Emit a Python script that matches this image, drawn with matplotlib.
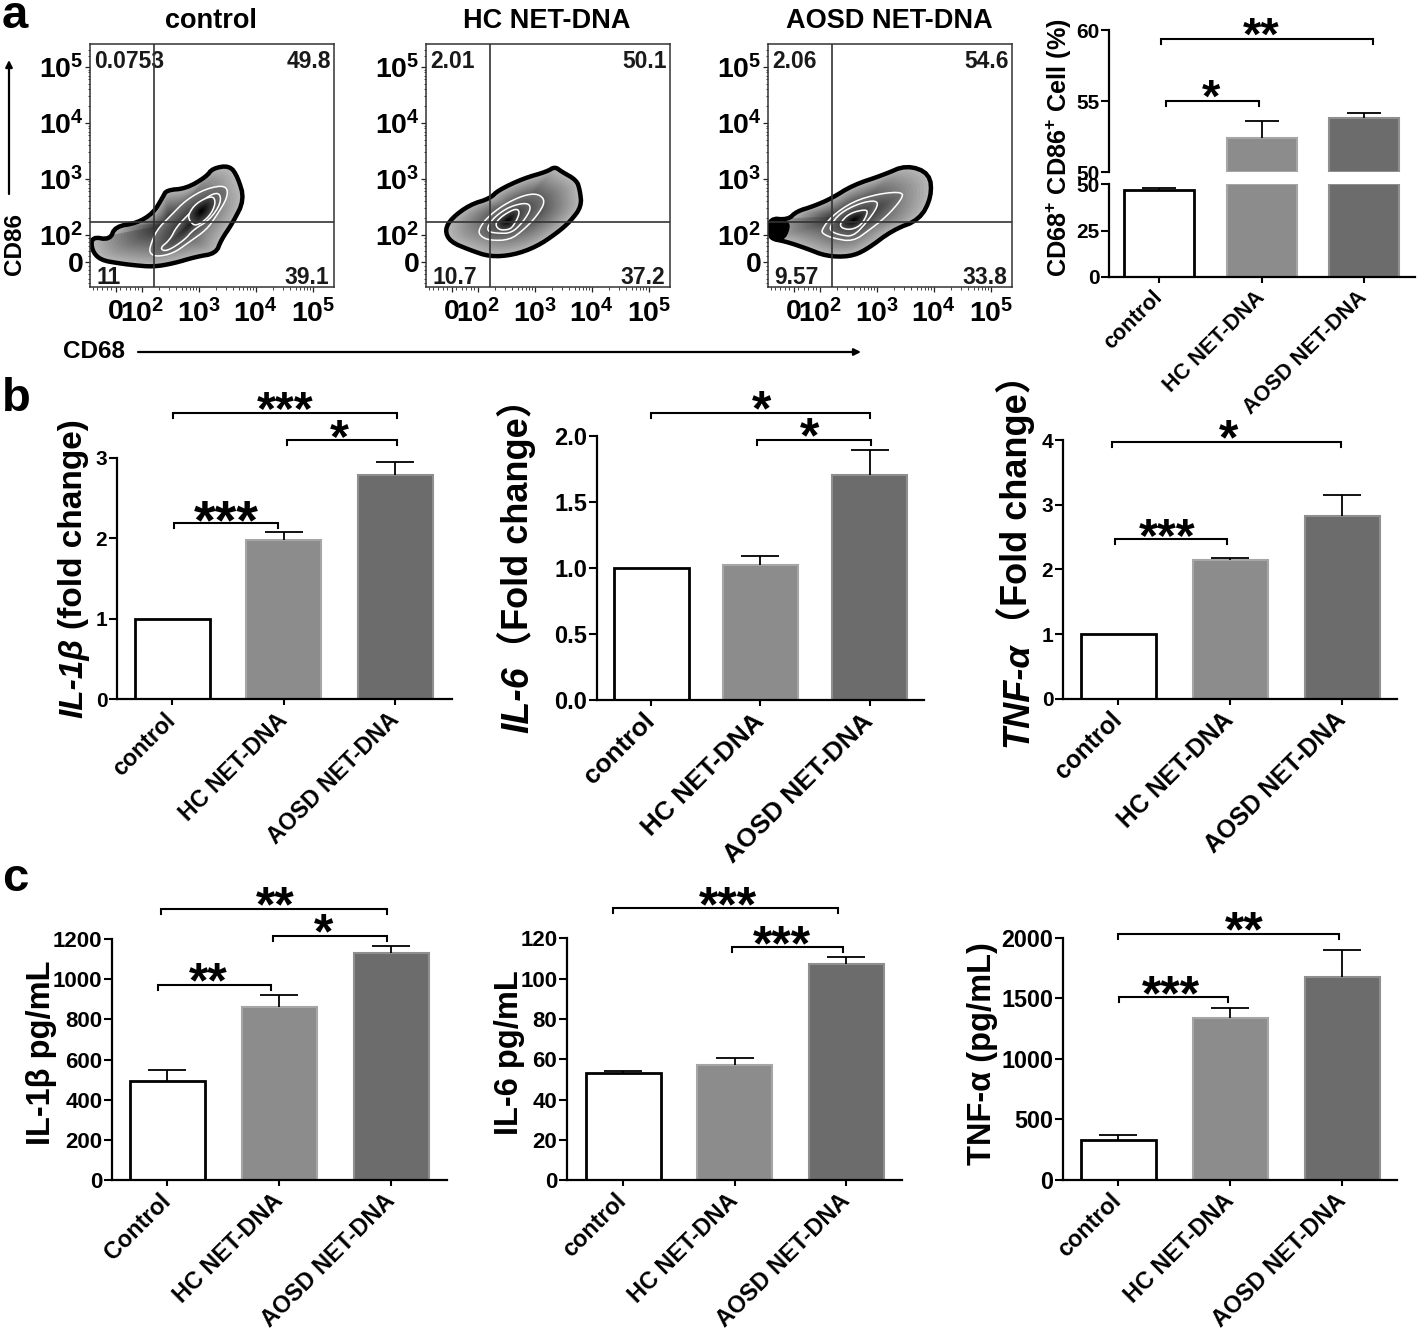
import numpy as np
import matplotlib
matplotlib.use("Agg")
import matplotlib.pyplot as plt
from matplotlib.patches import Polygon

plt.rcParams['font.family'] = ['Liberation Sans', 'Noto Sans CJK SC', 'DejaVu Sans']
plt.rcParams['font.weight'] = 'bold'
plt.rcParams['mathtext.fontset'] = 'custom'
plt.rcParams['mathtext.bf'] = 'Liberation Sans:bold'
plt.rcParams['mathtext.rm'] = 'Liberation Sans:bold'
plt.rcParams['mathtext.it'] = 'Liberation Sans:italic:bold'

W, H = 1418, 1332

# --- flow cytometry panels (contours in log10 decades) ---
flow_titles = ["control", "HC NET-DNA", "AOSD NET-DNA"]
flow_quadrants = [
    ["0.0753", "49.8", "11", "39.1"],
    ["2.01", "50.1", "10.7", "37.2"],
    ["2.06", "54.6", "9.57", "33.8"],
]

ctrl_outer_x = [1.12, 1.44, 1.53, 1.91, 2.20, 2.37, 2.43, 2.78, 3.13, 3.24, 3.54, 3.68, 3.80, 3.59, 3.39, 3.30, 2.95, 2.55, 2.20, 1.85, 1.62, 1.27, 1.12]
ctrl_outer_y = [1.97, 1.91, 2.15, 2.21, 2.39, 2.68, 2.80, 2.83, 3.04, 3.19, 3.24, 3.04, 2.63, 2.21, 1.91, 1.67, 1.61, 1.49, 1.43, 1.46, 1.49, 1.55, 1.73]
ctrl_c1_x = [2.14, 2.26, 2.49, 2.78, 3.13, 3.48, 3.51, 3.30, 3.13, 2.84, 2.55, 2.26, 2.14]
ctrl_c1_y = [1.79, 2.09, 2.33, 2.63, 2.83, 2.89, 2.68, 2.33, 2.09, 1.88, 1.67, 1.61, 1.67]
ctrl_c2_x = [2.31, 2.49, 2.61, 2.84, 3.13, 3.36, 3.39, 3.19, 2.90, 2.75, 2.43]
ctrl_c2_y = [1.76, 1.91, 2.15, 2.39, 2.68, 2.77, 2.57, 2.27, 2.09, 1.91, 1.70]
ctrl_c3_x = [2.81, 2.95, 3.24, 3.30, 3.19, 2.95, 2.84]
ctrl_c3_y = [2.36, 2.57, 2.71, 2.57, 2.33, 2.15, 2.24]

hc_outer_x = [1.42, 1.54, 1.86, 2.21, 2.36, 2.80, 3.21, 3.35, 3.47, 3.73, 3.79, 3.82, 3.62, 3.38, 3.03, 2.62, 2.21, 1.86, 1.51]
hc_outer_y = [2.09, 2.30, 2.54, 2.65, 2.80, 3.01, 3.13, 3.22, 3.13, 2.98, 2.80, 2.51, 2.24, 2.03, 1.79, 1.64, 1.61, 1.73, 1.88]
hc_c1_x = [2.01, 2.15, 2.45, 2.80, 3.06, 3.19, 3.03, 2.80, 2.56, 2.21, 2.04]
hc_c1_y = [2.09, 2.30, 2.54, 2.71, 2.74, 2.60, 2.33, 2.09, 1.91, 1.90, 1.98]
hc_c2_x = [2.17, 2.30, 2.56, 2.86, 2.94, 2.80, 2.59, 2.33, 2.18]
hc_c2_y = [2.15, 2.33, 2.51, 2.58, 2.48, 2.24, 2.03, 2.03, 2.06]
hc_c3_x = [2.30, 2.45, 2.68, 2.74, 2.62, 2.53, 2.36]
hc_c3_y = [2.21, 2.36, 2.48, 2.39, 2.15, 2.09, 2.09]

aosd_outer_x = [1.11, 1.44, 1.59, 1.88, 2.20, 2.58, 3.11, 3.52, 3.93, 3.96, 3.75, 3.28, 2.81, 2.52, 2.11, 1.76, 1.41, 1.11]
aosd_outer_y = [2.30, 2.27, 2.42, 2.51, 2.65, 2.89, 3.07, 3.25, 3.10, 2.68, 2.27, 2.09, 1.73, 1.61, 1.62, 1.76, 1.88, 1.94]
aosd_c1_x = [2.03, 2.20, 2.58, 3.05, 3.46, 3.43, 3.17, 2.87, 2.58, 2.23, 2.05]
aosd_c1_y = [2.09, 2.33, 2.60, 2.74, 2.77, 2.63, 2.33, 2.09, 1.88, 1.94, 2.02]
aosd_c2_x = [2.17, 2.35, 2.70, 2.99, 3.02, 2.81, 2.58, 2.35, 2.20]
aosd_c2_y = [2.15, 2.39, 2.57, 2.62, 2.51, 2.21, 1.97, 2.00, 2.06]
aosd_c3_x = [2.35, 2.52, 2.81, 2.84, 2.73, 2.55, 2.38]
aosd_c3_y = [2.21, 2.39, 2.46, 2.39, 2.18, 2.09, 2.12]
aosd_tail_x = [1.09, 1.30, 1.48, 1.42, 1.30, 1.09]
aosd_tail_y = [2.30, 2.26, 2.22, 1.98, 1.90, 1.92]

gate_x = 2.21
gate_y = 2.23

# --- bar panels ---
cd_vals = [46.9, 52.4, 53.8]
cd_errs = [1.3, 1.2, 0.4]

il1b_fold = [1.0, 1.98, 2.79]
il1b_fold_err = [0, 0.10, 0.16]
il6_fold = [1.0, 1.02, 1.70]
il6_fold_err = [0, 0.07, 0.19]
tnf_fold = [1.0, 2.14, 2.83]
tnf_fold_err = [0, 0.04, 0.32]
il1b_pg = [495, 862, 1129]
il1b_pg_err = [53, 58, 35]
il6_pg = [53, 57.2, 107.3]
il6_pg_err = [1, 3.6, 3.6]
tnf_pg = [330, 1334, 1677]
tnf_pg_err = [41, 83, 221]

groups_lower = ["control", "HC NET-DNA", "AOSD NET-DNA"]
groups_upper = ["Control", "HC NET-DNA", "AOSD NET-DNA"]

fig = plt.figure(figsize=(W / 100, H / 100), dpi=100)
bg = fig.add_axes([0, 0, 1, 1])
bg.set_xlim(0, W)
bg.set_ylim(H, 0)
bg.axis('off')


def px_axes(left, right, top, bottom):
    ax = fig.add_axes([left / W, 1 - bottom / H, (right - left) / W, (bottom - top) / H])
    ax.patch.set_alpha(0)
    return ax


def rounded(xs, ys, passes=2):
    # corner cutting so the hand-read outlines do not look angular
    pts = np.column_stack([xs, ys])
    for _ in range(passes):
        nxt = np.roll(pts, -1, axis=0)
        pts = np.column_stack([0.75 * pts + 0.25 * nxt, 0.25 * pts + 0.75 * nxt]).reshape(-1, 2)
    return pts


def shade(ax, pts, g_out, g_in, z, start=1.0, steps=24):
    c = pts.mean(axis=0)
    for i, s in enumerate(np.linspace(start, 0.05, steps)):
        g = g_out + (g_in - g_out) * i / (steps - 1)
        ax.add_patch(Polygon(c + s * (pts - c), closed=True, fc=str(g), ec='none', zorder=z))


def flow_panel(left, title, quads, levels, tail=None):
    right, top, bottom = left + 244, 44, 287
    ax = px_axes(left, right, top, bottom)
    ax.set_xlim(1.09, 5.37)
    ax.set_ylim(1.07, 5.41)
    outer, c1, c2, c3 = levels
    outer_pts = rounded(*outer)
    shade(ax, outer_pts, 0.72, 0.12, 1.0)
    ax.add_patch(Polygon(outer_pts, closed=True, fc='none', ec='black', lw=3.2,
                         joinstyle='round', zorder=1.15))
    if tail is not None:
        ax.add_patch(Polygon(rounded(*tail), closed=True, fc='black', ec='black', lw=1, zorder=1.16))
    for k, (lev, g0, g1) in enumerate([(c1, 0.45, 0.15), (c2, 0.4, 0.12), (c3, 0.3, 0.0)]):
        pts = rounded(*lev)
        shade(ax, pts, g0, g1, 1.2 + k * 0.1)
        ax.add_patch(Polygon(pts, closed=True, fc='none', ec='white', lw=1.1,
                             zorder=1.25 + k * 0.1))
    ax.axvline(gate_x, color='#333333', lw=1.2, zorder=2)
    ax.axhline(gate_y, color='#333333', lw=1.2, zorder=2)

    for s in ax.spines.values():
        s.set_color('#333333')
        s.set_linewidth(1.1)
    ax.set_xticks([1.55, 2, 3, 4, 5])
    ax.set_xticklabels(['0', r'$\mathbf{10^{2}}$', r'$\mathbf{10^{3}}$', r'$\mathbf{10^{4}}$', r'$\mathbf{10^{5}}$'], fontsize=20.5)
    ax.set_yticks([1.52, 2, 3, 4, 5])
    ax.set_yticklabels(['0', r'$\mathbf{10^{2}}$', r'$\mathbf{10^{3}}$', r'$\mathbf{10^{4}}$', r'$\mathbf{10^{5}}$'], fontsize=20.5)
    minor = np.concatenate([d + np.log10(np.arange(2, 10)) for d in (2, 3, 4)])
    linear = [1.15, 1.22, 1.3, 1.38, 1.45, 1.62, 1.72, 1.8, 1.88, 1.94]
    ax.set_xticks(np.concatenate([linear, minor]), minor=True)
    ax.set_yticks(np.concatenate([linear, minor, [5.2, 5.3]]), minor=True)
    ax.tick_params(axis='both', which='major', length=3.5, width=0.9, pad=1, color='#222222')
    ax.tick_params(axis='both', which='minor', length=1.8, width=0.6, color='#222222')
    ax.tick_params(axis='x', which='major', pad=5)

    bg.text(left + 121, 21, title, ha='center', va='center', fontsize=19.5)
    bg.text(left + 4, 61, quads[0], ha='left', va='center', fontsize=16.5, color='#1a1a1a')
    bg.text(right - 3, 62, quads[1], ha='right', va='center', fontsize=16.5, color='#1a1a1a')
    bg.text(left + 6, 277, quads[2], ha='left', va='center', fontsize=16.5, color='#1a1a1a')
    bg.text(right - 5, 277, quads[3], ha='right', va='center', fontsize=16.5, color='#1a1a1a')


def mixed_label(x, y_bottom, parts):
    # parts stacked upwards on one baseline: (text, italic, size, gap in px)
    rend = fig.canvas.get_renderer()
    y = y_bottom
    for text, italic, size, gap in parts:
        t = bg.text(x, y, text, rotation=90, ha='left', va='baseline', rotation_mode='anchor',
                    fontsize=size, style='italic' if italic else 'normal')
        y -= t.get_window_extent(rend).height + gap


def style_axis(ax, ylim, yticks, ylabels, ysize):
    ax.set_ylim(*ylim)
    ax.set_yticks(yticks)
    ax.set_yticklabels(ylabels, fontsize=ysize)
    ax.spines['top'].set_visible(False)
    ax.spines['right'].set_visible(False)
    ax.spines['left'].set_linewidth(1.6)
    ax.spines['bottom'].set_linewidth(1.6)
    ax.tick_params(axis='y', length=6, width=1.5, pad=1)
    ax.tick_params(axis='x', length=4.5, width=1.5, pad=8)


def draw_bars(ax, vals, errs, width, bottom=0):
    x = np.arange(3)
    ax.bar(x[0], vals[0], width, bottom=bottom, fc='white', ec='black', lw=2)
    ax.bar(x[1], np.array(vals[1]) - bottom, width, bottom=bottom, fc='#8c8c8c', ec='#a6a6a6', lw=1.5)
    ax.bar(x[2], np.array(vals[2]) - bottom, width, bottom=bottom, fc='#6c6c6c', ec='#8f8f8f', lw=1.5)


def draw_errs(ax, vals, errs, cap=13.5):
    for i in range(3):
        if errs[i] <= 0:
            continue
        eb = ax.errorbar(i, vals[i], yerr=[[0], [errs[i]]], color='black', elinewidth=1.3,
                         capsize=cap, capthick=1.3, zorder=3, clip_on=False)
        eb[1][0].set_visible(False)


def draw_sig(ax, brackets, px_per_unit):
    dip = 5 / px_per_unit
    for x1, x2, y, stars, sx, size in brackets:
        ax.plot([x1, x1, x2, x2], [y - dip, y, y, y - dip], color='black', lw=1.5,
                clip_on=False, zorder=4, solid_joinstyle='miter')
        ax.annotate(stars, (sx, y), xytext=(0, 11.5 - 0.57 * size), textcoords='offset points',
                    ha='center', va='baseline', fontsize=size, annotation_clip=False)


def bar_panel(left, right, top, bottom, x0, step, vals, errs, ylim, yticks, ylabels, ysize,
              groups, xsize, brackets):
    ax = px_axes(left, right, top, bottom)
    ax.set_xlim((left - x0) / step, (right - x0) / step)
    draw_bars(ax, vals, errs, 75 / step)
    draw_errs(ax, vals, errs)
    style_axis(ax, ylim, yticks, ylabels, ysize)
    ax.set_xticks([0, 1, 2])
    ax.set_xticklabels(groups, rotation=45, ha='right', va='center', rotation_mode='anchor', fontsize=xsize)
    draw_sig(ax, brackets, (bottom - top) / (ylim[1] - ylim[0]))
    return ax


# panel a
flow_panel(90, flow_titles[0], flow_quadrants[0],
           [(ctrl_outer_x, ctrl_outer_y), (ctrl_c1_x, ctrl_c1_y), (ctrl_c2_x, ctrl_c2_y), (ctrl_c3_x, ctrl_c3_y)])
flow_panel(426, flow_titles[1], flow_quadrants[1],
           [(hc_outer_x, hc_outer_y), (hc_c1_x, hc_c1_y), (hc_c2_x, hc_c2_y), (hc_c3_x, hc_c3_y)])
flow_panel(768, flow_titles[2], flow_quadrants[2],
           [(aosd_outer_x, aosd_outer_y), (aosd_c1_x, aosd_c1_y), (aosd_c2_x, aosd_c2_y), (aosd_c3_x, aosd_c3_y)],
           tail=(aosd_tail_x, aosd_tail_y))

bg.annotate('', xy=(9, 60), xytext=(9, 194), arrowprops=dict(arrowstyle='-|>', lw=1.6, color='black', mutation_scale=10, shrinkA=0, shrinkB=0))
bg.annotate('', xy=(861, 352), xytext=(138, 352), arrowprops=dict(arrowstyle='-|>', lw=1.6, color='black', mutation_scale=10, shrinkA=0, shrinkB=0))
bg.text(14, 244, 'CD86', rotation=90, ha='center', va='center', fontsize=17.5)
bg.text(94, 352, 'CD68', ha='center', va='center', fontsize=17.5)

# broken axis panel
x0_cd, step_cd = 1159, 102.5
low = px_axes(1109, 1415, 184.3, 276.7)
up = px_axes(1109, 1415, 30, 172.3)
for ax in (low, up):
    ax.set_xlim((1109 - x0_cd) / step_cd, (1415 - x0_cd) / step_cd)
draw_bars(low, [cd_vals[0], 50, 50], cd_errs, 70 / step_cd)
draw_errs(low, [cd_vals[0], 0, 0], [cd_errs[0], 0, 0], cap=12.5)
draw_bars(up, [50, cd_vals[1], cd_vals[2]], cd_errs, 70 / step_cd, bottom=50)
up.patches[0].set_visible(False)
draw_errs(up, [0, cd_vals[1], cd_vals[2]], [0, cd_errs[1], cd_errs[2]], cap=12.5)
style_axis(low, (0, 50), [0, 25, 50], ['0', '25', '50'], 15)
style_axis(up, (50, 60), [50, 55, 60], ['50', '55', '60'], 15)
up.spines['bottom'].set_visible(False)
up.set_xticks([])
low.set_xticks([0, 1, 2])
low.set_xticklabels(groups_lower, rotation=45, ha='right', va='center', rotation_mode='anchor', fontsize=15.6)
draw_sig(up, [(0.02, 2.09, 59.35, '**', 1.0, 34), (0.07, 0.98, 55.0, '*', 0.51, 34)], 14.23)
mixed_label(1067, 277, [(r'CD68$^{\mathbf{+}}$ CD86$^{\mathbf{+}}$ Cell (%)', False, 18.2, 0)])

# panel b
bar_panel(117, 452, 457.7, 699.3, 172, 111.6, il1b_fold, il1b_fold_err, (0, 3),
          [0, 1, 2, 3], ['0', '1', '2', '3'], 15, groups_lower, 16.7,
          [(0.01, 2.02, 3.56, '***', 1.01, 35), (1.03, 2.02, 3.22, '*', 1.50, 35), (0.02, 0.95, 2.19, '***', 0.49, 40)])
mixed_label(82, 718, [('IL-1β', True, 24, 9), ('(fold change)', False, 24, 0)])

bar_panel(597, 924, 435.7, 700, 651, 109.3, il6_fold, il6_fold_err, (0, 2),
          [0, 0.5, 1.0, 1.5, 2.0], ['0.0', '0.5', '1.0', '1.5', '2.0'], 17, groups_lower, 18.9,
          [(0.0, 2.0, 2.17, '*', 1.01, 36), (0.97, 2.01, 1.97, '*', 1.45, 36)])
mixed_label(528, 733, [('IL-6', True, 27, 0), ('（Fold change）', False, 26, 0)])

bar_panel(1063, 1397, 440, 698.7, 1118, 112, tnf_fold, tnf_fold_err, (0, 4),
          [0, 1, 2, 3, 4], ['0', '1', '2', '3', '4'], 15, groups_lower, 17.8,
          [(-0.05, 1.99, 3.97, '*', 0.99, 36), (-0.03, 0.97, 2.47, '***', 0.44, 35)])
mixed_label(1027, 747, [('TNF-α', True, 26, 0), ('（Fold change）', False, 26, 0)])

# panel c
bar_panel(112, 447, 938.7, 1180.3, 167, 112, il1b_pg, il1b_pg_err, (0, 1200),
          [0, 200, 400, 600, 800, 1000, 1200], ['0', '200', '400', '600', '800', '1000', '1200'], 16,
          groups_upper, 16.8,
          [(-0.05, 1.96, 1348, '**', 0.97, 36), (0.95, 1.96, 1215, '*', 1.40, 36), (-0.08, 0.93, 970, '**', 0.37, 36)])
mixed_label(50, 1145, [('IL-1β pg/mL', False, 23.5, 0)])

bar_panel(567, 902, 938.3, 1180.3, 623, 111.5, il6_pg, il6_pg_err, (0, 120),
          [0, 20, 40, 60, 80, 100, 120], ['0', '20', '40', '60', '80', '100', '120'], 16,
          groups_lower, 16.8,
          [(-0.09, 1.93, 134.8, '***', 0.94, 36), (0.98, 1.97, 115.5, '***', 1.43, 36)])
mixed_label(518, 1135, [('IL-6 pg/mL', False, 23.5, 0)])

bar_panel(1063, 1397, 937.7, 1180, 1118, 112, tnf_pg, tnf_pg_err, (0, 2000),
          [0, 500, 1000, 1500, 2000], ['0', '500', '1000', '1500', '2000'], 16.8,
          groups_lower, 16.8,
          [(0.0, 1.97, 2030, '**', 1.13, 36), (0.01, 0.98, 1507, '***', 0.47, 36)])
mixed_label(991, 1165, [('TNF-α (pg/mL)', False, 23.5, 0)])

bg.text(2, 28, 'a', fontsize=34, va='baseline')
bg.text(2, 411, 'b', fontsize=34, va='baseline')
bg.text(2, 891, 'c', fontsize=34, va='baseline')

fig.savefig('out.png', dpi=100)
